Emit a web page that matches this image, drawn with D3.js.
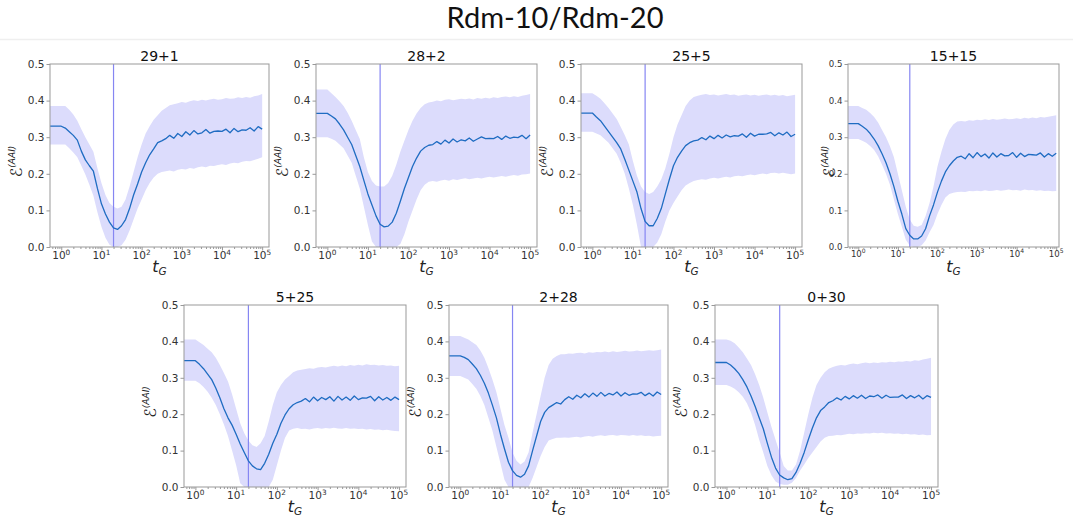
<!DOCTYPE html>
<html>
<head>
<meta charset="utf-8">
<script src="https://cdn.jsdelivr.net/npm/d3@7"></script>
<style>
  body { margin: 0; background: #fff; }
</style>
</head>
<body>
<svg id="chart"></svg>
<script>
// log10(t_G) sample positions shared by every panel
const tExp = [-0.3, 0.0, 0.1, 0.2, 0.3, 0.4, 0.5, 0.6, 0.7, 0.8, 0.9, 1.0, 1.1, 1.2, 1.3, 1.4, 1.5, 1.6, 1.7, 1.8, 1.9, 2.0, 2.1, 2.2, 2.3, 2.4, 2.5,
  2.6, 2.7, 2.8, 2.9, 3.0, 3.1, 3.2, 3.3, 3.4, 3.5, 3.6, 3.7, 3.8, 3.9, 4.0, 4.1, 4.2, 4.3, 4.4, 4.5, 4.6, 4.7, 4.8, 4.9, 5.0];

const titles = ["29+1", "28+2", "25+5", "15+15", "5+25", "2+28", "0+30"];
const markT = 20; // vertical marker at t_G = 20

// 29+1
const mean1 = [.330, .330, .325, .315, .305, .292, .262, .238, .222, .207, .160, .118, .090, .068, .052, .048, .058, .075, .105, .142, .172, .205, .230, .252, .268, .285, .290,
  .296, .305, .297, .310, .302, .315, .306, .318, .309, .312, .321, .311, .316, .317, .316, .322, .312, .324, .315, .320, .319, .326, .317, .329, .322];
const upper1 = [.385, .385, .385, .375, .362, .345, .322, .300, .280, .260, .215, .175, .142, .120, .110, .105, .110, .130, .165, .205, .245, .280, .310, .330, .348, .360, .372,
  .380, .387, .390, .393, .396, .394, .398, .401, .399, .402, .400, .403, .405, .402, .404, .407, .405, .406, .409, .407, .410, .408, .412, .414, .418];
const lower1 = [.280, .280, .280, .270, .258, .245, .222, .198, .170, .140, .095, .055, .025, .006, 0, 0, .005, .020, .045, .075, .105, .130, .155, .175, .190, .200, .205,
  .207, .209, .206, .211, .213, .212, .216, .214, .218, .220, .218, .222, .221, .224, .226, .224, .228, .230, .229, .233, .235, .234, .238, .241, .245];

// 28+2
const mean2 = [.365, .365, .358, .350, .336, .320, .300, .280, .250, .220, .182, .145, .115, .085, .062, .055, .057, .068, .092, .125, .160, .190, .220, .243, .262, .272, .278,
  .280, .288, .281, .292, .284, .295, .287, .293, .290, .298, .289, .295, .301, .296, .297, .296, .302, .294, .303, .297, .300, .299, .305, .296, .306];
const upper2 = [.430, .430, .420, .410, .398, .385, .367, .345, .320, .295, .245, .205, .180, .168, .165, .165, .175, .195, .225, .260, .290, .320, .345, .365, .380, .390, .395,
  .397, .400, .398, .402, .404, .401, .403, .405, .404, .406, .403, .407, .405, .408, .406, .409, .407, .410, .411, .409, .412, .410, .413, .415, .418];
const lower2 = [.300, .300, .296, .290, .280, .270, .250, .230, .195, .160, .110, .060, .015, 0, 0, 0, 0, 0, 0, .008, .035, .070, .100, .130, .155, .170, .178,
  .180, .178, .182, .184, .181, .185, .183, .186, .188, .185, .187, .189, .187, .190, .192, .190, .192, .194, .192, .195, .197, .195, .198, .199, .201];

// 25+5
const mean3 = [.366, .366, .355, .345, .330, .315, .300, .285, .268, .240, .210, .180, .150, .105, .070, .058, .058, .078, .105, .145, .185, .222, .245, .262, .277, .285, .290,
  .292, .299, .293, .303, .296, .305, .298, .306, .301, .304, .303, .309, .300, .311, .303, .308, .308, .309, .313, .304, .312, .306, .314, .302, .308];
const upper3 = [.420, .420, .413, .405, .393, .380, .365, .350, .328, .305, .280, .235, .195, .165, .150, .145, .150, .165, .185, .215, .255, .300, .335, .360, .385, .400, .410,
  .413, .416, .418, .415, .417, .414, .416, .418, .415, .417, .413, .415, .417, .414, .416, .413, .415, .417, .414, .416, .413, .415, .412, .414, .416];
const lower3 = [.315, .315, .310, .305, .295, .285, .270, .255, .230, .200, .160, .115, .060, 0, 0, 0, 0, .012, .035, .070, .100, .120, .138, .155, .168, .175, .180,
  .183, .185, .184, .187, .189, .187, .190, .192, .190, .193, .195, .193, .196, .198, .196, .199, .201, .199, .202, .203, .201, .203, .201, .199, .201];

// 15+15
const mean4 = [.337, .337, .330, .322, .310, .295, .277, .255, .230, .200, .165, .125, .090, .050, .032, .022, .022, .030, .050, .085, .115, .150, .180, .205, .222, .235, .245,
  .248, .241, .255, .244, .258, .247, .254, .243, .257, .246, .255, .249, .250, .258, .245, .256, .247, .253, .252, .251, .257, .246, .255, .248, .256];
const upper4 = [.385, .385, .380, .375, .366, .355, .340, .320, .300, .275, .245, .200, .155, .110, .075, .058, .055, .060, .085, .120, .165, .220, .260, .295, .320, .335, .343,
  .344, .343, .346, .345, .348, .346, .349, .347, .350, .348, .349, .351, .349, .350, .352, .350, .353, .351, .354, .352, .355, .354, .356, .358, .360];
const lower4 = [.295, .295, .290, .285, .276, .265, .248, .225, .200, .170, .130, .090, .055, .020, .004, 0, 0, .005, .018, .040, .060, .090, .115, .135, .145, .148, .150,
  .151, .150, .153, .152, .154, .152, .155, .153, .154, .156, .154, .155, .157, .155, .156, .154, .157, .155, .156, .154, .155, .153, .154, .152, .153];

// 5+25
const mean5 = [.347, .347, .337, .325, .310, .295, .272, .245, .215, .190, .170, .145, .118, .095, .072, .058, .050, .048, .065, .090, .120, .145, .175, .198, .215, .226, .232,
  .236, .243, .234, .247, .237, .246, .240, .248, .236, .249, .239, .247, .238, .250, .240, .245, .244, .249, .237, .248, .239, .246, .238, .247, .240];
const upper5 = [.405, .405, .398, .390, .380, .370, .355, .335, .313, .290, .255, .215, .175, .148, .128, .115, .110, .120, .140, .180, .225, .260, .280, .295, .305, .315, .320,
  .322, .324, .326, .325, .328, .330, .328, .331, .333, .331, .334, .332, .335, .333, .336, .334, .337, .335, .336, .334, .335, .333, .334, .332, .333];
const lower5 = [.292, .292, .285, .275, .262, .245, .225, .200, .172, .140, .100, .060, .010, 0, 0, 0, 0, 0, 0, 0, .020, .060, .100, .135, .155, .160, .162,
  .159, .160, .158, .161, .162, .160, .162, .161, .163, .161, .160, .162, .160, .161, .159, .160, .158, .159, .157, .158, .156, .157, .155, .154, .153];

// 2+28
const mean6 = [.360, .360, .356, .350, .338, .325, .307, .285, .258, .225, .190, .145, .105, .068, .045, .032, .027, .035, .058, .100, .140, .180, .205, .218, .225, .232, .228,
  .240, .248, .241, .252, .245, .256, .247, .258, .249, .260, .250, .257, .253, .261, .250, .259, .252, .256, .255, .260, .251, .258, .250, .261, .254];
const upper6 = [.415, .415, .410, .405, .398, .390, .375, .355, .327, .295, .260, .215, .170, .135, .095, .072, .062, .070, .095, .150, .200, .250, .300, .335, .352, .360, .365,
  .365, .367, .366, .368, .369, .367, .370, .369, .371, .370, .372, .370, .373, .371, .372, .374, .372, .373, .375, .373, .374, .376, .374, .376, .378];
const lower6 = [.305, .305, .300, .295, .283, .270, .250, .225, .190, .155, .110, .065, .020, 0, 0, 0, 0, 0, 0, .025, .055, .085, .110, .128, .132, .135, .135,
  .136, .135, .137, .138, .136, .139, .140, .138, .141, .142, .140, .142, .143, .141, .143, .142, .141, .143, .141, .142, .140, .141, .139, .140, .141];

// 0+30
const mean7 = [.342, .342, .335, .325, .312, .295, .275, .250, .222, .190, .160, .120, .082, .052, .033, .025, .020, .023, .040, .065, .095, .130, .162, .190, .210, .220, .232,
  .237, .245, .239, .249, .242, .251, .244, .252, .243, .250, .248, .253, .244, .252, .246, .247, .247, .253, .243, .251, .245, .252, .242, .251, .246];
const upper7 = [.405, .405, .402, .395, .383, .370, .353, .335, .310, .280, .245, .205, .165, .130, .095, .058, .045, .045, .062, .100, .150, .200, .245, .280, .300, .315, .325,
  .330, .333, .335, .334, .337, .339, .337, .340, .342, .340, .342, .341, .343, .342, .344, .343, .345, .344, .346, .345, .348, .347, .350, .352, .355];
const lower7 = [.280, .280, .276, .270, .260, .248, .230, .205, .170, .130, .095, .058, .032, .015, .008, .006, .006, .012, .025, .045, .062, .080, .095, .110, .125, .135, .140,
  .141, .143, .142, .144, .146, .145, .147, .146, .148, .147, .149, .148, .149, .147, .148, .146, .147, .145, .146, .144, .145, .143, .144, .142, .143];

const yTicks = [0, 0.1, 0.2, 0.3, 0.4, 0.5];
const xMajor = [1, 10, 100, 1000, 10000, 100000];

const series = [
  [mean1, upper1, lower1], [mean2, upper2, lower2], [mean3, upper3, lower3], [mean4, upper4, lower4],
  [mean5, upper5, lower5], [mean6, upper6, lower6], [mean7, upper7, lower7]
];

// panel boxes in pixels (top row, then bottom row)
const layout = [
  { x0: 50, x1: 269, y0: 64, y1: 247, lo: -0.28, hi: 5.17, fs: 10.5, yl: 28 },
  { x0: 316, x1: 537, y0: 64, y1: 247, lo: -0.28, hi: 5.17, fs: 10.5, yl: 28 },
  { x0: 581, x1: 802, y0: 64, y1: 247, lo: -0.28, hi: 5.17, fs: 10.5, yl: 28 },
  { x0: 848, x1: 1059, y0: 64, y1: 247, lo: -0.26, hi: 5.07, fs: 8.6, yl: 13 },
  { x0: 184, x1: 406, y0: 305, y1: 487, lo: -0.28, hi: 5.17, fs: 10.5, yl: 28 },
  { x0: 449, x1: 668, y0: 305, y1: 487, lo: -0.28, hi: 5.17, fs: 10.5, yl: 28 },
  { x0: 715, x1: 938, y0: 305, y1: 487, lo: -0.28, hi: 5.17, fs: 10.5, yl: 28 }
];

const FONT = "'DejaVu Sans', 'Liberation Sans', sans-serif";
const W = 1073, H = 523;
const svg = d3.select("#chart").attr("width", W).attr("height", H)
  .style("font-family", FONT);
svg.append("rect").attr("width", W).attr("height", H).attr("fill", "#fff");

svg.append("text")
  .attr("x", 555).attr("y", 28)
  .attr("text-anchor", "middle")
  .style("font-family", "Lato, 'Open Sans', sans-serif")
  .attr("font-size", 29)
  .attr("fill", "#111")
  .text("Rdm-10/Rdm-20");

svg.append("line")
  .attr("x1", 0).attr("x2", W).attr("y1", 39.5).attr("y2", 39.5)
  .attr("stroke", "#efefef").attr("stroke-width", 1.5);

layout.forEach((L, p) => {
  const [mean, upper, lower] = series[p];
  const pts = tExp.map((e, i) => ({ t: Math.pow(10, e), m: mean[i], hi: upper[i], lo: lower[i] }));

  const x = d3.scaleLog().domain([Math.pow(10, L.lo), Math.pow(10, L.hi)]).range([L.x0, L.x1]);
  const y = d3.scaleLinear().domain([0, 0.5]).range([L.y1, L.y0]);

  const g = svg.append("g").attr("class", "panel");

  const clipId = "clip" + p;
  g.append("clipPath").attr("id", clipId)
    .append("rect")
    .attr("x", L.x0).attr("y", L.y0)
    .attr("width", L.x1 - L.x0).attr("height", L.y1 - L.y0);

  const plot = g.append("g").attr("clip-path", `url(#${clipId})`);

  const area = d3.area()
    .x((d) => x(d.t))
    .y0((d) => y(d.lo))
    .y1((d) => y(d.hi));

  const line = d3.line()
    .x((d) => x(d.t))
    .y((d) => y(d.m));

  plot.append("path").datum(pts)
    .attr("d", area)
    .attr("fill", "#dcdcfc");

  plot.append("line")
    .attr("x1", x(markT)).attr("x2", x(markT))
    .attr("y1", L.y0).attr("y2", L.y1)
    .attr("stroke", "#8686f2").attr("stroke-width", 1.2);

  plot.append("path").datum(pts)
    .attr("d", line)
    .attr("fill", "none")
    .attr("stroke", "#1f6cc2")
    .attr("stroke-width", 1.3)
    .attr("stroke-linejoin", "round");

  // frame
  g.append("rect")
    .attr("x", L.x0).attr("y", L.y0)
    .attr("width", L.x1 - L.x0).attr("height", L.y1 - L.y0)
    .attr("fill", "none").attr("stroke", "#999").attr("stroke-width", 1);

  // minor log ticks
  const minor = [];
  for (let k = -1; k <= 5; k++) {
    for (let m = 2; m <= 9; m++) {
      const v = m * Math.pow(10, k);
      if (v > x.domain()[0] && v < x.domain()[1]) minor.push(v);
    }
  }

  const xMinorAxis = g.append("g")
    .attr("transform", `translate(0,${L.y1})`)
    .call(d3.axisBottom(x).tickValues(minor).tickSize(2).tickSizeOuter(0).tickFormat(""));
  const xAxis = g.append("g")
    .attr("transform", `translate(0,${L.y1})`)
    .call(d3.axisBottom(x).tickValues(xMajor).tickSize(3.5).tickSizeOuter(0).tickFormat(""));
  const yAxis = g.append("g")
    .attr("transform", `translate(${L.x0},0)`)
    .call(d3.axisLeft(y).tickValues(yTicks).tickSize(3.5).tickSizeOuter(0).tickFormat(d3.format(".1f")));

  [xMinorAxis, xAxis, yAxis].forEach((a) => {
    a.attr("font-family", null);
    a.select(".domain").remove();
    a.selectAll(".tick line").attr("stroke", "#999");
  });

  yAxis.selectAll(".tick text")
    .attr("x", -5.5)
    .attr("font-size", L.fs)
    .attr("fill", "#333");

  // 10^k labels
  g.selectAll("text.xlab")
    .data(xMajor)
    .join("text")
    .attr("class", "xlab")
    .attr("x", (d) => x(d))
    .attr("y", L.y1 + 1.5 + L.fs)
    .attr("text-anchor", "middle")
    .attr("font-size", L.fs)
    .attr("fill", "#333")
    .each(function (d) {
      const t = d3.select(this);
      t.append("tspan").text("10");
      t.append("tspan")
        .attr("dy", -L.fs * 0.42)
        .attr("font-size", L.fs * 0.7)
        .text(Math.round(Math.log10(d)));
    });

  // title
  g.append("text")
    .attr("x", (L.x0 + L.x1) / 2)
    .attr("y", L.y0 - 3)
    .attr("text-anchor", "middle")
    .attr("font-size", 14)
    .attr("fill", "#111")
    .text(titles[p]);

  // x label t_G
  const xl = g.append("text")
    .attr("x", (L.x0 + L.x1) / 2)
    .attr("y", L.y1 + 25)
    .attr("text-anchor", "middle")
    .attr("fill", "#222");
  xl.append("tspan").attr("font-size", 16).attr("font-style", "italic").text("t");
  xl.append("tspan").attr("font-size", 10.5).attr("font-style", "italic").attr("dy", 3).text("G");

  // y label E^(AAI)
  const yl = g.append("text")
    .attr("transform", `translate(${L.x0 - L.yl},${(L.y0 + L.y1) / 2 + 6}) rotate(-90)`)
    .attr("text-anchor", "middle")
    .attr("fill", "#222");
  yl.append("tspan").attr("font-size", 16).attr("font-style", "italic").text("\u2130");
  yl.append("tspan").attr("font-size", 9).attr("font-style", "italic").attr("dy", -7).text("(AAI)");
});
</script>
</body>
</html>
